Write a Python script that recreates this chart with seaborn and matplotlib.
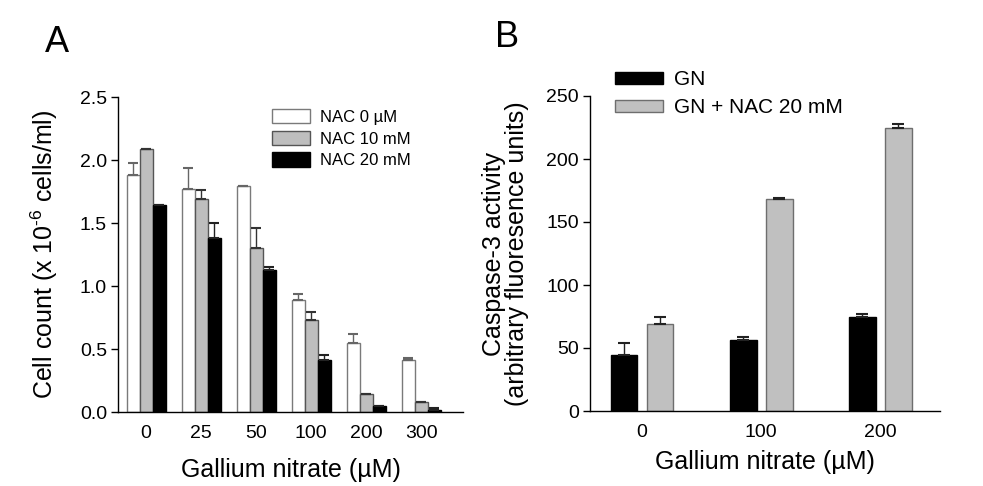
import matplotlib
matplotlib.use("Agg")
import matplotlib.pyplot as plt
from matplotlib.container import BarContainer
import seaborn as sns
import pandas as pd
import numpy as np

sns.set_style("white")
plt.rcParams['font.family'] = ['Liberation Sans', 'DejaVu Sans']
plt.rcParams.update({"text.color": "black", "axes.labelcolor": "black",
                     "xtick.color": "black", "ytick.color": "black",
                     "mathtext.fontset": "custom", "mathtext.rm": "Liberation Sans"})

# ---- Panel A data ----
doses_a = ["0", "25", "50", "100", "200", "300"]
nac_levels = ["NAC 0 µM", "NAC 10 mM", "NAC 20 mM"]
nac0 = [1.88, 1.77, 1.79, 0.89, 0.55, 0.41]
nac0_err = [0.10, 0.17, 0.0, 0.05, 0.07, 0.02]
nac10 = [2.09, 1.69, 1.30, 0.73, 0.14, 0.08]
nac10_err = [0.0, 0.07, 0.16, 0.06, 0.0, 0.0]
nac20 = [1.64, 1.38, 1.13, 0.41, 0.05, 0.016]
nac20_err = [0.0, 0.12, 0.02, 0.04, 0.0, 0.016]

# ---- Panel B data ----
doses_b = ["0", "100", "200"]
groups_b = ["GN", "GN + NAC 20 mM"]
gn = [44.7, 56.3, 74.3]
gn_err = [9.0, 2.6, 2.3]
gn_nac = [68.7, 168.6, 224.9]
gn_nac_err = [6.1, 0.8, 3.1]

df_a = pd.DataFrame({
    "dose": doses_a * 3,
    "group": sum([[g] * len(doses_a) for g in nac_levels], []),
    "value": nac0 + nac10 + nac20,
})
errs_a = [nac0_err, nac10_err, nac20_err]

df_b = pd.DataFrame({
    "dose": doses_b * 2,
    "group": sum([[g] * len(doses_b) for g in groups_b], []),
    "value": gn + gn_nac,
})
errs_b = [gn_err, gn_nac_err]

fig = plt.figure(figsize=(9.83, 4.86), dpi=100)
W, H = 983, 486
axA = fig.add_axes([118 / W, 1 - 412 / H, 345 / W, 315 / H])
axB = fig.add_axes([590 / W, 1 - 411 / H, 350 / W, 315 / H])

# Panel A
colors_a = ["#ffffff", "#bebebe", "#000000"]
edges_a = ["#7a7a7a", "#555555", "#000000"]
ecols_a = ["#666666", "#333333", "#222222"]
sns.barplot(data=df_a, x="dose", y="value", hue="group", order=doses_a,
            hue_order=nac_levels, palette=colors_a, width=0.71, gap=0,
            errorbar=None, legend=False, ax=axA, saturation=1)
bars_a = [c for c in axA.containers if isinstance(c, BarContainer)]
for cont, ec, err, erc in zip(bars_a, edges_a, errs_a, ecols_a):
    xs, ys = [], []
    for p in cont.patches:
        p.set_edgecolor(ec)
        p.set_linewidth(1.0)
        xs.append(p.get_x() + p.get_width() / 2)
        ys.append(p.get_height())
    axA.errorbar(xs, ys, yerr=[np.zeros(len(err)), err], fmt="none",
                 ecolor=erc, elinewidth=1.0, capsize=3.5, capthick=1.5)

axA.set_xlim(-0.51, 5.76)
axA.set_ylim(0, 2.5)
axA.set_yticks([0, 0.5, 1.0, 1.5, 2.0, 2.5])
axA.set_yticklabels(["0.0", "0.5", "1.0", "1.5", "2.0", "2.5"])
axA.set_xlabel("Gallium nitrate (µM)", fontsize=18)
axA.set_ylabel(r"Cell count (x 10$^{\text{-6}}$ cells/ml)", fontsize=18)
axA.xaxis.set_label_coords(0.5, -(458 - 412) / 315)
axA.yaxis.set_label_coords((60 - 118) / 345, 0.5)
handles_a = [c.patches[0] for c in bars_a]
legA = axA.legend(handles_a, nac_levels, loc="upper left",
                  bbox_to_anchor=(272 / W, 1 - 109 / H), bbox_transform=fig.transFigure,
                  frameon=False, fontsize=12, handlelength=2.3, handleheight=0.95,
                  labelspacing=0.35, handletextpad=0.6, borderaxespad=0, borderpad=0)

# Panel B
colors_b = ["#000000", "#c0c0c0"]
edges_b = ["#000000", "#6e6e6e"]
sns.barplot(data=df_b, x="dose", y="value", hue="group", order=doses_b,
            hue_order=groups_b, palette=colors_b, width=0.604, gap=0.26,
            errorbar=None, legend=False, ax=axB, saturation=1)
bars_b = [c for c in axB.containers if isinstance(c, BarContainer)]
for cont, ec, err in zip(bars_b, edges_b, errs_b):
    xs, ys = [], []
    for p in cont.patches:
        p.set_edgecolor(ec)
        p.set_linewidth(1.0)
        xs.append(p.get_x() + p.get_width() / 2)
        ys.append(p.get_height())
    axB.errorbar(xs, ys, yerr=[np.zeros(len(err)), err], fmt="none",
                 ecolor="#222222", elinewidth=1.0, capsize=4, capthick=1.5)

axB.set_xlim(-0.437, 2.50)
axB.set_ylim(0, 250)
axB.set_yticks([0, 50, 100, 150, 200, 250])
axB.set_xlabel("Gallium nitrate (µM)", fontsize=18)
axB.set_ylabel("Caspase-3 activity\n(arbitrary fluoresence units)", fontsize=18,
               linespacing=0.95)
axB.xaxis.set_label_coords(0.5, -(450 - 411) / 315)
axB.yaxis.set_label_coords((529 - 590) / 350, 0.5)
handles_b = [c.patches[0] for c in bars_b]
legB = axB.legend(handles_b, groups_b, loc="upper left",
                  bbox_to_anchor=(615 / W, 1 - 70 / H), bbox_transform=fig.transFigure,
                  frameon=False, fontsize=15, handlelength=2.3, handleheight=0.5,
                  labelspacing=0.45, handletextpad=0.55, borderaxespad=0, borderpad=0)

for ax in (axA, axB):
    sns.despine(ax=ax)
    for s in ("left", "bottom"):
        ax.spines[s].set_color("black")
        ax.spines[s].set_linewidth(1.0)
    ax.tick_params(axis="y", which="major", direction="out", length=5, width=1,
                   color="black", labelsize=14, pad=3, left=True)
    ax.tick_params(axis="x", length=0, labelsize=14, pad=9)

fig.text(45 / W, 1 - 52 / H, "A", fontsize=26, ha="left", va="baseline")
fig.text(495 / W, 1 - 47 / H, "B", fontsize=26, ha="left", va="baseline")

fig.savefig("out.png", dpi=100)
